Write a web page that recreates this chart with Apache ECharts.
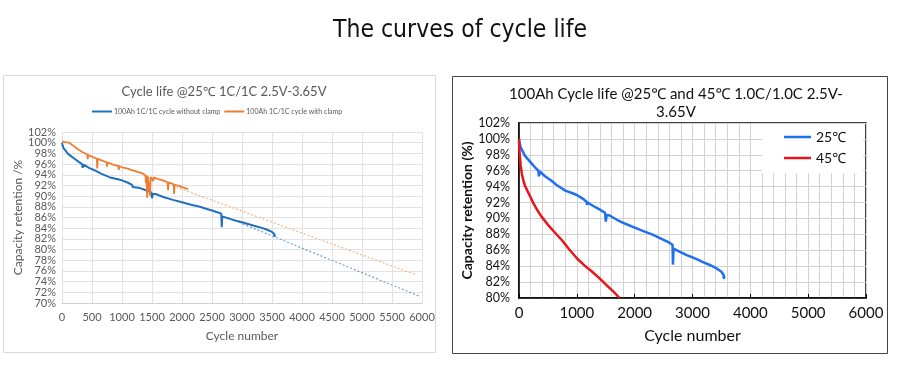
<!DOCTYPE html>
<html><head><meta charset="utf-8">
<script src="https://cdn.jsdelivr.net/npm/echarts@6/dist/echarts.min.js"></script>
<style>html,body{margin:0;padding:0;background:#fff}#c{width:900px;height:366px}</style>
</head><body><div id="c"></div>
<script>
const mainTitle = 'The curves of cycle life';
const leftTitle = 'Cycle life @25℃ 1C/1C 2.5V-3.65V';
const rightTitle = '100Ah Cycle life @25℃ and 45℃ 1.0C/1.0C 2.5V-\n3.65V';
const leftSeriesNames = ['100Ah 1C/1C cycle without clamp', '100Ah 1C/1C cycle with clamp'];
const rightSeriesNames = ['25℃', '45℃'];
const yAxisNameLeft = 'Capacity retention /%';
const yAxisNameRight = 'Capacity retention (%)';
const xAxisName = 'Cycle number';

// [cycle, capacity retention %]
const blue25 = [[0,100.0],[10,99.5],[30,98.9],[60,98.5],[100,97.9],[160,97.4],[220,96.9],[280,96.4],[335,96.0],[345,95.3],[360,95.9],[450,95.3],[550,94.8],[650,94.2],[800,93.5],[950,93.1],[1000,92.95],[1100,92.5],[1170,92.1],[1175,91.7],[1185,92.0],[1300,91.5],[1400,91.1],[1490,90.7],[1500,89.6],[1515,90.4],[1560,90.4],[1700,89.8],[1850,89.3],[2000,88.85],[2150,88.4],[2300,88.0],[2400,87.65],[2500,87.3],[2600,86.95],[2655,86.7],[2662,84.2],[2672,86.2],[2700,86.1],[2800,85.75],[2900,85.4],[3000,85.1],[3100,84.8],[3200,84.45],[3300,84.15],[3400,83.8],[3500,83.3],[3538,82.9],[3543,82.4],[3550,82.8]];
const orangeClamp = [[0,100.2],[50,100.1],[120,100.0],[180,99.5],[250,98.9],[330,98.3],[420,97.8],[428,96.9],[436,97.7],[500,97.4],[580,97.0],[588,95.2],[596,97.0],[680,96.6],[745,96.3],[750,95.5],[758,96.3],[850,95.9],[940,95.6],[946,94.9],[954,95.6],[1000,95.4],[1083,95.2],[1150,94.9],[1250,94.6],[1330,94.3],[1390,93.9],[1398,92.5],[1406,93.9],[1420,89.7],[1430,93.7],[1450,93.9],[1468,90.1],[1478,93.6],[1500,93.7],[1520,92.8],[1530,93.5],[1600,93.2],[1667,93.0],[1760,92.6],[1768,91.1],[1776,92.6],[1860,92.2],[1868,90.4],[1876,92.1],[1950,91.9],[2000,91.7],[2050,91.5],[2100,91.3]];
const blueTrend = [[2950,85.1],[5950,71.3]];
const orangeTrend = [[1900,91.7],[5900,75.3]];
const red45 = [[0,100.0],[5,98.8],[15,97.8],[30,96.6],[50,95.6],[75,94.8],[104,94.1],[150,93.4],[191,92.8],[250,91.9],[320,91.0],[393,90.2],[500,89.2],[624,88.2],[750,87.2],[870,86.1],[1000,85.0],[1130,84.1],[1250,83.4],[1375,82.6],[1500,81.7],[1620,80.9],[1740,80.0]];

const F = "Lato, 'Open Sans', 'Noto Sans', sans-serif";
const gL = '#595959';
const plain = v => String(v);
const pct = v => v + '%';
// left plot geometry (2% step = H/16)
const LT = 132, LH = 171, STEP = LH / 16;
const leftYLabel = {fontFamily: F, fontSize: 11, color: gL, margin: 6, formatter: pct, showMinLabel: true, showMaxLabel: true};
const chart = echarts.init(document.getElementById('c'), null, {renderer: 'canvas'});
chart.setOption({
  animation: false,
  backgroundColor: '#fff',
  graphic: [
    {type: 'rect', shape: {x: 3.5, y: 75.5, width: 432, height: 277}, style: {fill: 'none', stroke: '#d9d9d9', lineWidth: 1}, z: -10},
    {type: 'rect', shape: {x: 452.5, y: 76.5, width: 435, height: 277}, style: {fill: 'none', stroke: '#444', lineWidth: 1}, z: -10}
  ],
  title: [
    {text: mainTitle, left: 455, top: 13, textAlign: 'center', textStyle: {fontFamily: "'DejaVu Sans Condensed', 'DejaVu Sans', sans-serif", fontSize: 24.5, fontWeight: 'normal', color: '#111'}},
    {text: leftTitle, left: 219, top: 80, textAlign: 'center', textStyle: {fontFamily: F, fontSize: 13, fontWeight: 'normal', color: gL}},
    {text: rightTitle, left: 671, top: 80, textAlign: 'center', textStyle: {fontFamily: F, fontSize: 15, fontWeight: 'normal', color: '#111', lineHeight: 18}}
  ],
  legend: [
    {data: leftSeriesNames, left: 92, top: 108, icon: 'rect', itemWidth: 20, itemHeight: 2, itemGap: 4, padding: 0,
     textStyle: {fontFamily: F, fontSize: 7, color: gL, padding: [0,0,0,-3]}},
    {data: rightSeriesNames, orient: 'vertical', left: 762, top: 124, icon: 'rect', itemWidth: 27, itemHeight: 2.5, itemGap: 7,
     padding: [6, 17, 8, 22], backgroundColor: '#fff', textStyle: {fontFamily: F, fontSize: 14, color: '#111'}}
  ],
  grid: [
    {left: 62, top: LT, width: 360, height: LH, show: false},
    {left: 519, top: 123, width: 347, height: 175, show: true, borderColor: '#000', borderWidth: 1.5},
    {left: 62, top: LT + STEP, width: 360, height: LH - 2 * STEP, show: false}
  ],
  xAxis: [
    {gridIndex: 0, type: 'value', min: 0, max: 6000, interval: 500,
     axisLine: {show: true, lineStyle: {color: '#d0d0d0'}}, axisTick: {show: false},
     axisLabel: {fontFamily: F, fontSize: 11, color: gL, margin: 9, formatter: plain, showMinLabel: true, showMaxLabel: true},
     splitLine: {show: true, lineStyle: {color: '#e2e2e2'}},
     name: xAxisName, nameLocation: 'middle', nameGap: 27, nameTextStyle: {fontFamily: F, fontSize: 12, color: gL}},
    {gridIndex: 1, type: 'value', min: 0, max: 6000, interval: 1000,
     axisLine: {show: true, lineStyle: {color: '#000', width: 1.5}}, axisTick: {show: true, inside: true, length: 4, lineStyle: {color: '#000'}},
     minorTick: {show: false, splitNumber: 5},
     axisLabel: {fontFamily: F, fontSize: 15, color: '#111', margin: 8, formatter: plain, showMinLabel: true, showMaxLabel: true},
     splitLine: {show: true, lineStyle: {color: '#d2d2d2'}},
     minorSplitLine: {show: true, lineStyle: {color: '#d2d2d2'}},
     name: xAxisName, nameLocation: 'middle', nameGap: 30, nameTextStyle: {fontFamily: F, fontSize: 16, color: '#111'}},
    {gridIndex: 2, type: 'value', min: 0, max: 6000, show: false}
  ],
  yAxis: [
    {gridIndex: 0, type: 'value', min: 70, max: 102, interval: 4,
     axisLine: {show: false}, axisTick: {show: false},
     minorTick: {show: false, splitNumber: 2},
     axisLabel: leftYLabel,
     splitLine: {show: true, lineStyle: {color: '#e2e2e2'}},
     minorSplitLine: {show: true, lineStyle: {color: '#e2e2e2'}},
     name: yAxisNameLeft, nameLocation: 'middle', nameGap: 36, nameRotate: 90, nameTextStyle: {fontFamily: F, fontSize: 12, color: gL}},
    {gridIndex: 1, type: 'value', min: 80, max: 102, interval: 2,
     axisLine: {show: true, lineStyle: {color: '#000', width: 1.5}}, axisTick: {show: false},
     axisLabel: {fontFamily: F, fontSize: 12.5, color: '#111', margin: 9, formatter: pct, showMinLabel: true, showMaxLabel: true},
     splitLine: {show: true, lineStyle: {color: '#d2d2d2'}},
     name: yAxisNameRight, nameLocation: 'middle', nameGap: 44, nameRotate: 90, nameTextStyle: {fontFamily: F, fontSize: 14, fontWeight: 'bold', color: '#111'}},
    {gridIndex: 2, type: 'value', min: 72, max: 100, interval: 4,
     axisLine: {show: false}, axisTick: {show: false}, splitLine: {show: false},
     axisLabel: leftYLabel}
  ],
  series: [
    {name: 'trendBlue', type: 'line', xAxisIndex: 0, yAxisIndex: 0, data: blueTrend, showSymbol: false, z: 1,
     lineStyle: {color: '#6fa0d6', width: 1.2, type: [2, 2]}},
    {name: 'trendOrange', type: 'line', xAxisIndex: 0, yAxisIndex: 0, data: orangeTrend, showSymbol: false, z: 1,
     lineStyle: {color: '#f2b48a', width: 1.2, type: [2, 2]}},
    {name: leftSeriesNames[0], type: 'line', xAxisIndex: 0, yAxisIndex: 0, data: blue25, showSymbol: false, z: 3,
     itemStyle: {color: '#2270bd'}, lineStyle: {color: '#2270bd', width: 2}},
    {name: leftSeriesNames[1], type: 'line', xAxisIndex: 0, yAxisIndex: 0, data: orangeClamp, showSymbol: false, z: 3,
     itemStyle: {color: '#ec7d32'}, lineStyle: {color: '#ec7d32', width: 1.8}},
    {name: rightSeriesNames[0], type: 'line', xAxisIndex: 1, yAxisIndex: 1, data: blue25, showSymbol: false, z: 3,
     itemStyle: {color: '#1f6fef'}, lineStyle: {color: '#1f6fef', width: 2.5}},
    {name: rightSeriesNames[1], type: 'line', xAxisIndex: 1, yAxisIndex: 1, data: red45, showSymbol: false, z: 3,
     itemStyle: {color: '#e8151b'}, lineStyle: {color: '#e8151b', width: 2.5}}
  ]
});
</script></body></html>
